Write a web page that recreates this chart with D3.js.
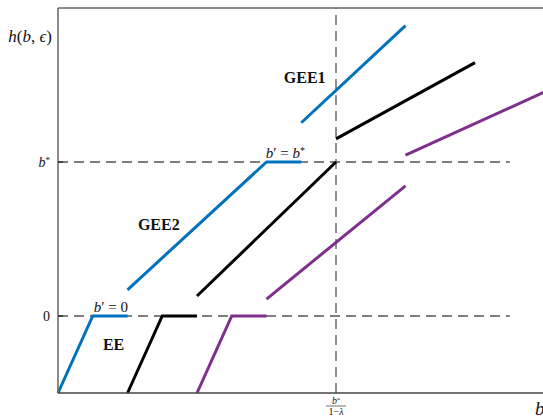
<!DOCTYPE html>
<html>
<head>
<meta charset="utf-8">
<script src="https://cdn.jsdelivr.net/npm/d3@7"></script>
<style>
  body { margin: 0; background: #fff; }
  text { font-family: "Liberation Serif", "DejaVu Serif", serif; fill: #111; }
</style>
</head>
<body>
<div id="chart"></div>
<script>
// x in units of b, y in units of h (b* = 2)
var xDomain = [0, 7], yDomain = [-1, 4];
var bStarY = 2, kinkX = 4;

// EE branches (ramp then flat at b' = 0)
var eeBlue   = [[0, -1], [0.5, 0], [1, 0]];
var eeBlack  = [[1, -1], [1.5, 0], [2, 0]];
var eePurple = [[2, -1], [2.5, 0], [3, 0]];

// GEE2 branches
var gee2Blue   = [[1, 0.34], [3, 2], [3.5, 2]];
var gee2Black  = [[2, 0.26], [4, 2]];
var gee2Purple = [[3, 0.22], [5, 1.69]];

// GEE1 branches
var gee1Blue   = [[3.5, 2.51], [5, 3.77]];
var gee1Black  = [[4, 2.30], [6, 3.29]];
var gee1Purple = [[5, 2.09], [7.05, 2.93]];

var series = [
  {pts: eeBlue, c: "#0072BD"}, {pts: eeBlack, c: "#000"}, {pts: eePurple, c: "#7E2F8E"},
  {pts: gee2Blue, c: "#0072BD"}, {pts: gee2Black, c: "#000"}, {pts: gee2Purple, c: "#7E2F8E"},
  {pts: gee1Blue, c: "#0072BD"}, {pts: gee1Black, c: "#000"}, {pts: gee1Purple, c: "#7E2F8E"}
];

var margin = {top: 8, right: 0, bottom: 25, left: 58},
    width = 486.5,
    height = 385;

var svg = d3.select("#chart")
  .append("svg")
    .attr("width", 543)
    .attr("height", 418)
  .append("g")
    .attr("transform", "translate(" + margin.left + "," + margin.top + ")");

var x = d3.scaleLinear().domain(xDomain).range([0, width]);
var y = d3.scaleLinear().domain(yDomain).range([height, 0]);

// dashed guides
svg.append("line")
  .attr("x1", x(0)).attr("x2", x(6.5))
  .attr("y1", y(0)).attr("y2", y(0))
  .attr("stroke", "#555").attr("stroke-width", 1.3).attr("stroke-dasharray", "10,6");
svg.append("line")
  .attr("x1", x(0)).attr("x2", x(6.5))
  .attr("y1", y(bStarY)).attr("y2", y(bStarY))
  .attr("stroke", "#555").attr("stroke-width", 1.3).attr("stroke-dasharray", "10,6");
svg.append("line")
  .attr("x1", x(kinkX)).attr("x2", x(kinkX))
  .attr("y1", y(-1)).attr("y2", y(4))
  .attr("stroke", "#555").attr("stroke-width", 1.3).attr("stroke-dasharray", "10,6");

// lines
var line = d3.line()
  .x(function(d) { return x(d[0]); })
  .y(function(d) { return y(d[1]); });

svg.selectAll("mylines")
  .data(series)
  .enter()
  .append("path")
    .attr("d", function(d) { return line(d.pts); })
    .attr("fill", "none")
    .attr("stroke", function(d) { return d.c; })
    .attr("stroke-width", 3);

// frame
svg.append("line").attr("x1", 0).attr("x2", 0).attr("y1", 0).attr("y2", height)
  .attr("stroke", "#666").attr("stroke-width", 1.5);
svg.append("line").attr("x1", 0).attr("x2", width).attr("y1", 0).attr("y2", 0)
  .attr("stroke", "#666").attr("stroke-width", 1.5);
svg.append("line").attr("x1", 0).attr("x2", width).attr("y1", height).attr("y2", height)
  .attr("stroke", "#444").attr("stroke-width", 1.5);

// y ticks
[0, bStarY].forEach(function(v) {
  svg.append("line").attr("x1", 0).attr("x2", 5).attr("y1", y(v)).attr("y2", y(v))
    .attr("stroke", "#333").attr("stroke-width", 1.5);
});
svg.append("text").attr("x", -8).attr("y", y(0)).attr("dy", "0.35em")
  .attr("text-anchor", "end").style("font-size", "14px").text("0");
var bs = svg.append("text").attr("x", -8).attr("y", y(bStarY)).attr("dy", "0.35em")
  .attr("text-anchor", "end").style("font-size", "14px");
bs.append("tspan").style("font-style", "italic").text("b");
bs.append("tspan").attr("dy", "-0.4em").style("font-size", "9px").text("*");

// y label
var yl = svg.append("text").attr("x", -6).attr("y", 34)
  .attr("text-anchor", "end").style("font-size", "17px");
yl.append("tspan").style("font-style", "italic").text("h");
yl.append("tspan").text("(");
yl.append("tspan").style("font-style", "italic").text("b");
yl.append("tspan").text(", ");
yl.append("tspan").style("font-style", "italic").text("ϵ");
yl.append("tspan").text(")");

// x tick label b*/(1-λ)
var fx = x(kinkX);
var num = svg.append("text").attr("x", fx).attr("y", height + 11)
  .attr("text-anchor", "middle").style("font-size", "10px");
num.append("tspan").style("font-style", "italic").text("b");
num.append("tspan").attr("dy", "-0.4em").style("font-size", "6px").text("*");
svg.append("line").attr("x1", fx - 10).attr("x2", fx + 10)
  .attr("y1", height + 13).attr("y2", height + 13).attr("stroke", "#333").attr("stroke-width", 0.7);
var den = svg.append("text").attr("x", fx).attr("y", height + 21.5)
  .attr("text-anchor", "middle").style("font-size", "10px");
den.append("tspan").text("1−");
den.append("tspan").style("font-style", "italic").text("λ");

// x label
svg.append("text").attr("x", x(6.93)).attr("y", height + 22)
  .attr("text-anchor", "middle").style("font-size", "19px").style("font-style", "italic").text("b");

// annotations
function primeLabel(px, py, rhs) {
  var t = svg.append("text").attr("x", px).attr("y", py)
    .attr("text-anchor", "middle").style("font-size", "15px");
  t.append("tspan").style("font-style", "italic").text("b");
  t.append("tspan").text("′ = ");
  if (rhs === "0") {
    t.append("tspan").text("0");
  } else {
    t.append("tspan").style("font-style", "italic").text("b");
    t.append("tspan").attr("dy", "-0.4em").style("font-size", "10px").text("*");
  }
}
primeLabel(x(0.76), y(0) - 4, "0");
primeLabel(x(3.27), y(bStarY) - 4, "b*");

svg.append("text").attr("x", x(3.55)).attr("y", y(3.03)).attr("text-anchor", "middle")
  .style("font-size", "16px").style("font-weight", "bold").text("GEE1");
svg.append("text").attr("x", x(1.45)).attr("y", y(1.12)).attr("text-anchor", "middle")
  .style("font-size", "16px").style("font-weight", "bold").text("GEE2");
svg.append("text").attr("x", x(0.8)).attr("y", y(-0.44)).attr("text-anchor", "middle")
  .style("font-size", "16px").style("font-weight", "bold").text("EE");
</script>
</body>
</html>
